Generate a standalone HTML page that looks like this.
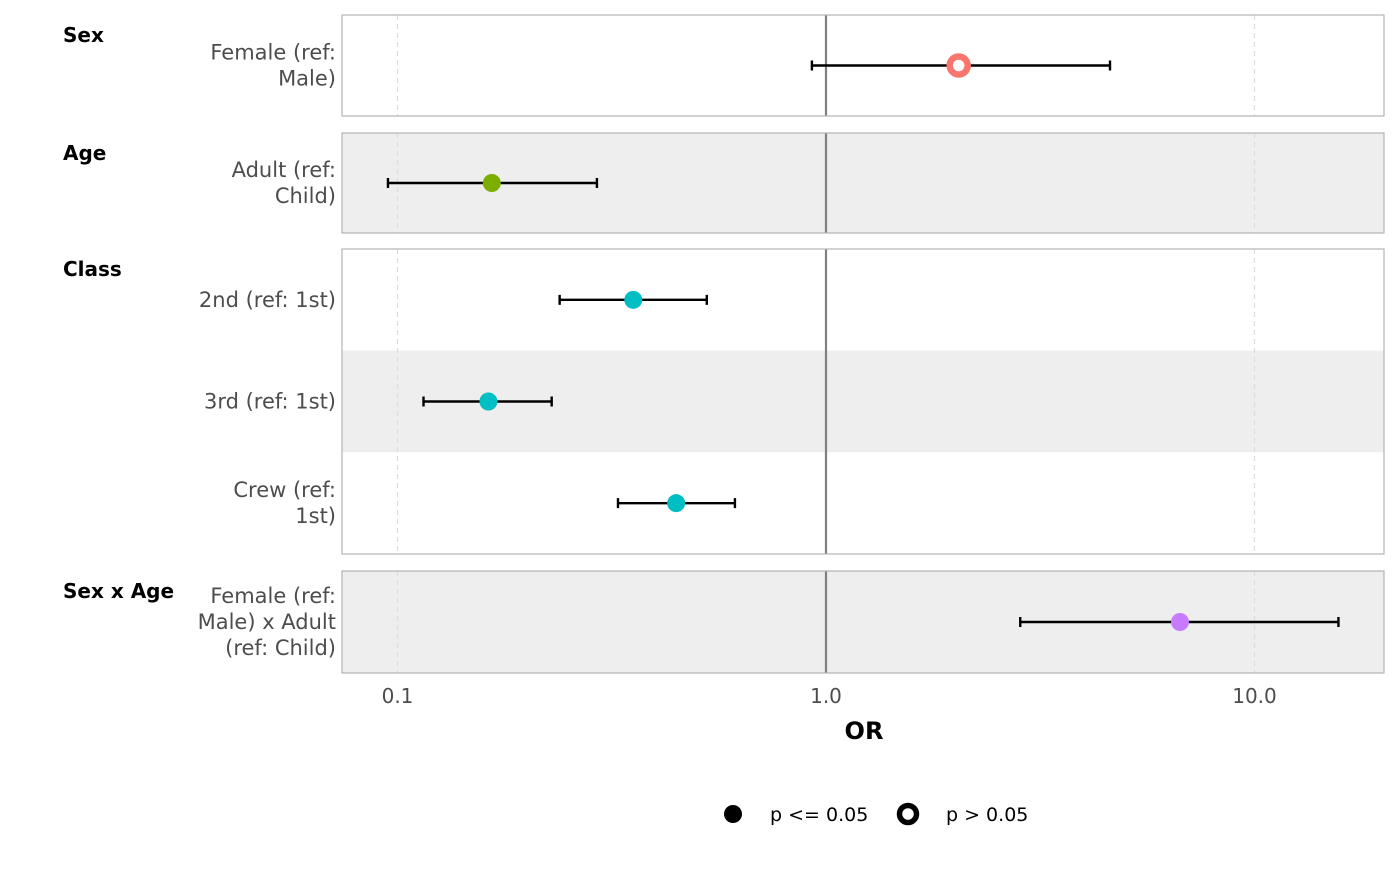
<!DOCTYPE html>
<html><head><meta charset="utf-8"><style>
body{margin:0;background:#fff}
svg text{font-family:"DejaVu Sans","Liberation Sans",sans-serif}
</style></head><body>
<svg id="chart" width="1400" height="866" xmlns="http://www.w3.org/2000/svg">
<g id="bg"></g><g id="grid"></g><g id="marks"></g><g id="labels"></g>
<g>
<text x="398" y="703" text-anchor="middle" font-size="20" fill="#4d4d4d" id="t0"></text>
<text x="826" y="703" text-anchor="middle" font-size="20" fill="#4d4d4d" id="t1"></text>
<text x="1255" y="703" text-anchor="middle" font-size="20" fill="#4d4d4d" id="t2"></text>
<text x="864" y="739" text-anchor="middle" font-size="24" font-weight="bold" fill="#000">OR</text>
</g>
<g>
<circle cx="733" cy="814" r="9" fill="#000"/>
<text x="770" y="821" font-size="19" fill="#000">p &lt;= 0.05</text>
<circle cx="908" cy="814" r="8.5" fill="#fff" stroke="#000" stroke-width="5.5"/>
<text x="946" y="821" font-size="19" fill="#000">p &gt; 0.05</text>
</g>
</svg>
<script>
const terms=["Female (ref:|Male)","Adult (ref:|Child)","2nd (ref: 1st)","3rd (ref: 1st)","Crew (ref:|1st)","Female (ref:|Male) x Adult|(ref: Child)"];
const estimates=[2.04,0.166,0.355,0.163,0.447,6.70];
const lower=[0.927,0.095,0.239,0.115,0.327,2.84];
const upper=[4.60,0.292,0.527,0.229,0.613,15.7];
const significant=[false,true,true,true,true,true];
const colors=["#F8766D","#7CAE00","#00BFC4","#00BFC4","#00BFC4","#C77CFF"];
const groups=["Sex","Age","Class","Sex x Age"];
const groupRows=[[0],[1],[2,3,4],[5]];
const tickValues=[0.1,1,10];
const tickLabels=["0.1","1.0","10.0"];

const NS="http://www.w3.org/2000/svg";
const X0=342,X1=1384;
function xs(v){return 826+428.5*Math.log10(v);}
function mk(p,tag,a){const e=document.createElementNS(NS,tag);for(const k in a)e.setAttribute(k,a[k]);document.getElementById(p).appendChild(e);return e;}
const panels=[[15,116],[133,233],[249,554],[571,673]];
const rowY=[];
groupRows.forEach((rows,gi)=>{
 const [t,b]=panels[gi];const h=(b-t)/rows.length;
 rows.forEach((r,j)=>{
  const y0=t+j*h;rowY[r]=y0+h/2;
  const bg=mk('bg','rect',{x:X0,y:y0,width:X1-X0,height:h,fill:(r%2==1)?'#eeeeee':'#ffffff'});
  
  
 });
 const gt=mk('labels','text',{x:63,y:t+27,'font-size':20,'font-weight':'bold',fill:'#000'});
 gt.textContent=groups[gi];
 
 
});
panels.forEach(([t,b])=>{
 tickValues.forEach((v,i)=>{ if(i!==1){const g=mk('grid','line',{x1:xs(v),x2:xs(v),y1:t,y2:b,stroke:'#dcdcdc','stroke-width':1.2,'stroke-dasharray':'5,4'});
 
 }});
 const rl=mk('grid','line',{x1:xs(1),x2:xs(1),y1:t,y2:b,stroke:'#808080','stroke-width':2.2});
 
 
 const fr=mk('grid','rect',{x:X0,y:t,width:X1-X0,height:b-t,fill:'none',stroke:'#b3b3b3','stroke-width':1.2});
 
 
});
tickLabels.forEach((l,i)=>{document.getElementById('t'+i).textContent=l;document.getElementById('t'+i).setAttribute('x',xs(tickValues[i]));});
terms.forEach((tm,i)=>{
 const y=rowY[i];
 const lines=tm.split('|');
 lines.forEach((ln,k)=>{
  const tx=mk('labels','text',{x:336,y:y+7+(k-(lines.length-1)/2)*26,'font-size':21,fill:'#4d4d4d','text-anchor':'end'});
  tx.textContent=ln;
  
  
 });
 const l=xs(lower[i]),u=xs(upper[i]);
 const ci=mk('marks','path',{d:`M${l},${y}H${u}M${l},${y-5}V${y+5}M${u},${y-5}V${y+5}`,stroke:'#000','stroke-width':2.4,fill:'none'});
 
 
 const c=significant[i]?mk('marks','circle',{cx:xs(estimates[i]),cy:y,r:9,fill:colors[i]}):mk('marks','circle',{cx:xs(estimates[i]),cy:y,r:9,fill:'#fff',stroke:colors[i],'stroke-width':6.5});
 
 
});
</script>
</body></html>
